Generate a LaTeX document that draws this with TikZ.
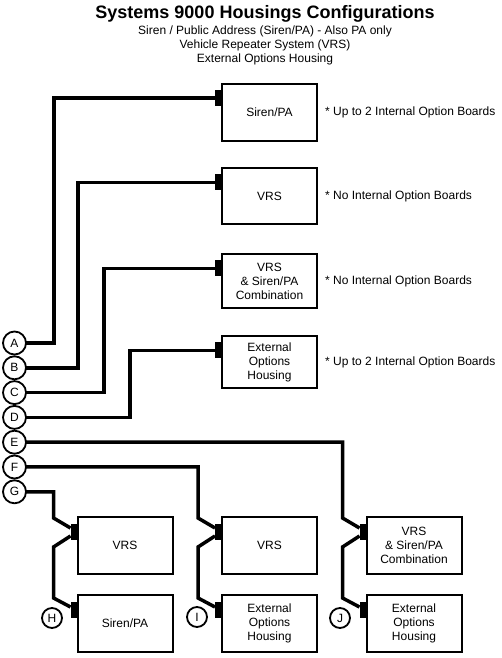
\documentclass[tikz,border=0pt]{standalone}
\usepackage{fontspec}
\setmainfont{Liberation Sans}
\usetikzlibrary{positioning, calc}
\tikzset{
  box/.style={
    draw,
    rectangle,
    line width=2pt,
    outer sep=0pt,
    minimum width=95pt,
    minimum height=56pt,
    inner sep=0pt,
    align=center,
    font=\fontsize{12}{14}\selectfont
  },
  tab/.style={
    fill=black,
    rectangle,
    outer sep=0pt,
    inner sep=0pt,
    minimum width=7pt,
    minimum height=16pt
  },
  port/.style={
    draw,
    circle,
    line width=1.8pt,
    outer sep=0pt,
    minimum size=23pt,
    inner sep=0pt,
    font=\fontsize{12}{14}\selectfont
  },
  note/.style={
    font=\fontsize{12}{14}\selectfont,
    inner sep=0pt
  },
  cable/.style={
    line width=3.5pt
  }
}

\begin{document}
\begin{tikzpicture}[x=1pt, y=1pt]
    \useasboundingbox (0,0) rectangle (502,658);
    \node[font=\bfseries\fontsize{18}{22}\selectfont] (title) at (265,644) {Systems 9000 Housings Configurations};
    \node[font=\fontsize{12}{14}\selectfont, align=center, inner sep=0pt] (sub) at (265,613) {Siren / Public Address (Siren/PA) - Also PA only\\Vehicle Repeater System (VRS)\\External Options Housing};

    % upper housings
    \node[box, minimum height=57pt] (sirenTop) at (269.5,545.5) {Siren/PA};
    \node[box, below=27.5pt of sirenTop] (vrsTop) {VRS};
    \node[box, minimum height=54pt, below=30pt of vrsTop] (comboTop) {VRS\\\& Siren/PA\\Combination};
    \node[box, minimum height=52pt, below=28pt of comboTop] (extTop) {External\\Options\\Housing};

    \node[note, right=8pt of sirenTop] (n1) {* Up to 2 Internal Option Boards};
    \node[note, right=8pt of vrsTop] (n2) {* No Internal Option Boards};
    \node[note, right=8pt of comboTop] (n3) {* No Internal Option Boards};
    \node[note, right=8pt of extTop] (n4) {* Up to 2 Internal Option Boards};

    \node[tab, below left=6pt and 0pt of sirenTop.north west] (tA) {};
    \node[tab, below left=6pt and 0pt of vrsTop.north west] (tB) {};
    \node[tab, below left=6pt and 0pt of comboTop.north west] (tC) {};
    \node[tab, below left=6pt and 0pt of extTop.north west] (tD) {};

    % lower housings
    \node[box, minimum height=57pt] (vrsG) at (125,112.5) {VRS};
    \node[box, minimum height=57pt, below=21pt of vrsG] (sirenH) {Siren/PA};
    \node[box, minimum height=57pt, right=49.5pt of vrsG] (vrsF) {VRS};
    \node[box, minimum height=57pt, below=21pt of vrsF] (extF) {External\\Options\\Housing};
    \node[box, minimum height=57pt, right=49.5pt of vrsF] (comboE) {VRS\\\& Siren/PA\\Combination};
    \node[box, minimum height=57pt, below=21pt of comboE] (extE) {External\\Options\\Housing};

    \node[tab, below left=7pt and 0pt of vrsG.north west] (tG) {};
    \node[tab, below left=7pt and 0pt of sirenH.north west] (tH) {};
    \node[tab, below left=7pt and 0pt of vrsF.north west] (tF) {};
    \node[tab, below left=7pt and 0pt of extF.north west] (tI) {};
    \node[tab, below left=7pt and 0pt of comboE.north west] (tE) {};
    \node[tab, below left=7pt and 0pt of extE.north west] (tJ) {};

    % ports
    \node[port] (A) at (14.5,315) {A};
    \node[port, below=1.8pt of A] (B) {B};
    \node[port, below=1.8pt of B] (C) {C};
    \node[port, below=1.8pt of C] (D) {D};
    \node[port, below=1.8pt of D] (E) {E};
    \node[port, below=1.8pt of E] (F) {F};
    \node[port, below=1.8pt of F] (G) {G};
    \node[port, minimum size=20pt] (H) at (52,40) {H};
    \node[port, minimum size=20pt] (I) at (197,41) {I};
    \node[port, minimum size=20pt] (J) at (340,40) {J};

    % cables
    \draw[cable] (A.east) -- ++(28,0) |- (tA.west);
    \draw[cable] (B.east) -- ++(52,0) |- (tB.west);
    \draw[cable] (C.east) -- ++(78,0) |- (tC.west);
    \draw[cable] (D.east) -- ++(104,0) |- (tD.west);

    \draw[cable] (G.east) -| ($(tG.west)+(-17,14)$) -- ($(tG.west)+(0,4)$);
    \draw[cable] ($(tG.west)+(0,-4)$) -- ++(-17,-11) -- ($(tH.west)+(-17,12)$) -- ($(tH.west)+(0,3)$);
    \draw[cable] (F.east) -| ($(tF.west)+(-17,14)$) -- ($(tF.west)+(0,4)$);
    \draw[cable] ($(tF.west)+(0,-4)$) -- ++(-17,-11) -- ($(tI.west)+(-17,12)$) -- ($(tI.west)+(0,3)$);
    \draw[cable] (E.east) -| ($(tE.west)+(-17,14)$) -- ($(tE.west)+(0,4)$);
    \draw[cable] ($(tE.west)+(0,-4)$) -- ++(-17,-11) -- ($(tJ.west)+(-17,12)$) -- ($(tJ.west)+(0,3)$);
\end{tikzpicture}
\end{document}
